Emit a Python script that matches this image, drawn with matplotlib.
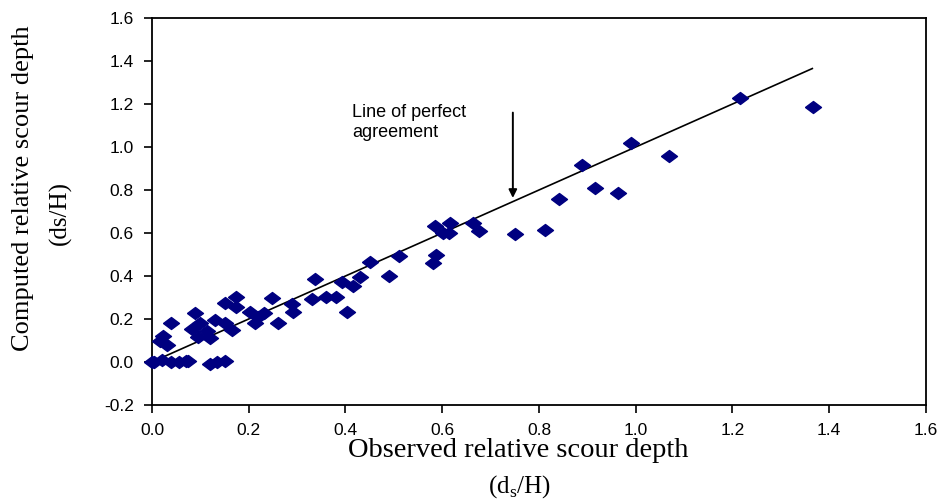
import matplotlib.pyplot as plt
from matplotlib.path import Path

# observed (x) vs computed (y) relative scour depth
observed = [0.0, 0.005, 0.02, 0.04, 0.055, 0.07, 0.075, 0.12, 0.135, 0.15,
            0.017, 0.023, 0.032, 0.039, 0.083, 0.089, 0.096, 0.099, 0.113, 0.12,
            0.13, 0.151, 0.151, 0.165, 0.174, 0.174, 0.203, 0.213, 0.22, 0.232,
            0.249, 0.261, 0.289, 0.292, 0.33, 0.337, 0.36, 0.38, 0.392, 0.404,
            0.415, 0.431, 0.451, 0.49, 0.511, 0.58, 0.588, 0.585, 0.601, 0.615,
            0.617, 0.663, 0.675, 0.75, 0.812, 0.841, 0.888, 0.916, 0.963, 0.99,
            1.069, 1.215, 1.366]
computed = [0.0, 0.0, 0.01, 0.0, 0.0, 0.005, 0.005, -0.008, 0.0, 0.005,
            0.098, 0.12, 0.08, 0.183, 0.152, 0.229, 0.118, 0.183, 0.146, 0.11,
            0.195, 0.276, 0.183, 0.149, 0.304, 0.254, 0.234, 0.183, 0.21, 0.226,
            0.296, 0.183, 0.27, 0.234, 0.293, 0.386, 0.301, 0.301, 0.374, 0.231,
            0.355, 0.394, 0.467, 0.401, 0.494, 0.462, 0.498, 0.633, 0.598, 0.598,
            0.648, 0.648, 0.611, 0.594, 0.612, 0.758, 0.916, 0.811, 0.784, 1.017,
            0.958, 1.229, 1.188]

line_end = 1.365
ticks = [0.0, 0.2, 0.4, 0.6, 0.8, 1.0, 1.2, 1.4, 1.6]
yticks = [-0.2, 0.0, 0.2, 0.4, 0.6, 0.8, 1.0, 1.2, 1.4, 1.6]

fig = plt.figure(figsize=(9.45, 4.99), dpi=100)
ax = fig.add_axes([0.1608, 0.1884, 0.8191, 0.7755])

diamond = Path([(-1, 0), (0, 0.75), (1, 0), (0, -0.75), (-1, 0)])
ax.plot(observed, computed, linestyle='none', marker=diamond, markersize=11.5,
        color='#000080', clip_on=False, zorder=3)

# line of perfect agreement
ax.plot([0, line_end], [0, line_end], color='black', lw=1.2, zorder=2)

ax.annotate('', xy=(0.746, 0.763), xytext=(0.746, 1.16),
            arrowprops=dict(arrowstyle='-|>', color='black', lw=1.4,
                            mutation_scale=12, shrinkA=0, shrinkB=0))
ax.text(0.413, 1.20, 'Line of perfect\nagreement', fontsize=13,
        family='Liberation Sans', va='top', ha='left', linespacing=1.25)

ax.set_xlim(0, 1.6)
ax.set_ylim(-0.2, 1.6)
ax.set_xticks(ticks)
ax.set_yticks(yticks)
ax.set_xticklabels(['%.1f' % t for t in ticks])
ax.set_yticklabels(['%.1f' % t for t in yticks])
ax.tick_params(direction='out', length=6, width=1.2, labelsize=12.5, pad=7)
for lab in ax.get_xticklabels() + ax.get_yticklabels():
    lab.set_family('Liberation Sans')
for sp in ax.spines.values():
    sp.set_linewidth(1.3)

fig.text(0.548, 0.098, 'Observed relative scour depth', fontsize=20.5,
         family='Liberation Serif', ha='center', va='center')
fig.text(0.550, 0.024, '(d$_\\mathregular{s}$/H)', fontsize=18,
         family='Liberation Serif', ha='center', va='center')
fig.text(0.024, 0.623, 'Computed relative scour depth', fontsize=19,
         family='Liberation Serif', ha='center', va='center', rotation=90)
fig.text(0.0635, 0.573, '(ds/H)', fontsize=18,
         family='Liberation Serif', ha='center', va='center', rotation=90)

fig.savefig('out.png', dpi=100)
